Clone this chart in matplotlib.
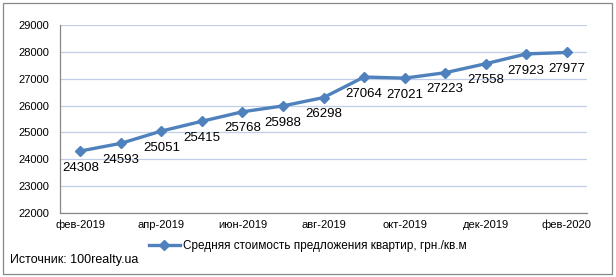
import matplotlib.pyplot as plt
from matplotlib.patches import Rectangle

plt.rcParams['font.family'] = ['Liberation Sans', 'DejaVu Sans']

# данные
months = ['фев-2019', 'мар-2019', 'апр-2019', 'май-2019', 'июн-2019', 'июл-2019',
          'авг-2019', 'сен-2019', 'окт-2019', 'ноя-2019', 'дек-2019', 'янв-2020',
          'фев-2020']
prices = [24308, 24593, 25051, 25415, 25768, 25988, 26298,
          27064, 27021, 27223, 27558, 27923, 27977]
yticks = [22000, 23000, 24000, 25000, 26000, 27000, 28000, 29000]
series_name = 'Средняя стоимость предложения квартир, грн./кв.м'
source = 'Источник: 100realty.ua'

fig = plt.figure(figsize=(6.16, 2.77), dpi=100)
ax = fig.add_axes([60 / 616, 1 - 213 / 277, 527 / 616, 188 / 277])

x = list(range(len(prices)))
line, = ax.plot(x, prices, color='#4F81BD', lw=2.4, marker='D', ms=5.5,
                label=series_name)

for xi, v in zip(x, prices):
    ax.annotate(str(v), (xi, v), xytext=(0, -12), textcoords='offset points',
                ha='center', va='center', fontsize=9.5)

ax.set_xlim(-0.5, 12.5)
ax.set_ylim(22000, 29000)
ax.set_yticks(yticks)
ax.set_xticks(x[::2])
ax.set_xticklabels(months[::2])
ax.tick_params(axis='both', length=0, labelsize=8)
ax.tick_params(axis='y', pad=8)
ax.tick_params(axis='x', pad=5)
ax.grid(axis='y', color='#BFCFE8', lw=0.9)
ax.set_axisbelow(True)
for s in ['top', 'right']:
    ax.spines[s].set_visible(False)
for s in ['left', 'bottom']:
    ax.spines[s].set_color('#888888')
    ax.spines[s].set_linewidth(0.9)

fig.legend(handles=[line], loc='center', bbox_to_anchor=(0.5, 1 - 246 / 277),
           frameon=False, fontsize=8.5, handlelength=2.6, handletextpad=0.3)
fig.text(10 / 616, 1 - 260 / 277, source, fontsize=9, va='center', ha='left')

fig.patches.append(Rectangle((3 / 616, 3 / 277), 609 / 616, 271 / 277,
                             transform=fig.transFigure, fill=False,
                             edgecolor='#888888', lw=0.9))

fig.savefig('out.png', dpi=100)
